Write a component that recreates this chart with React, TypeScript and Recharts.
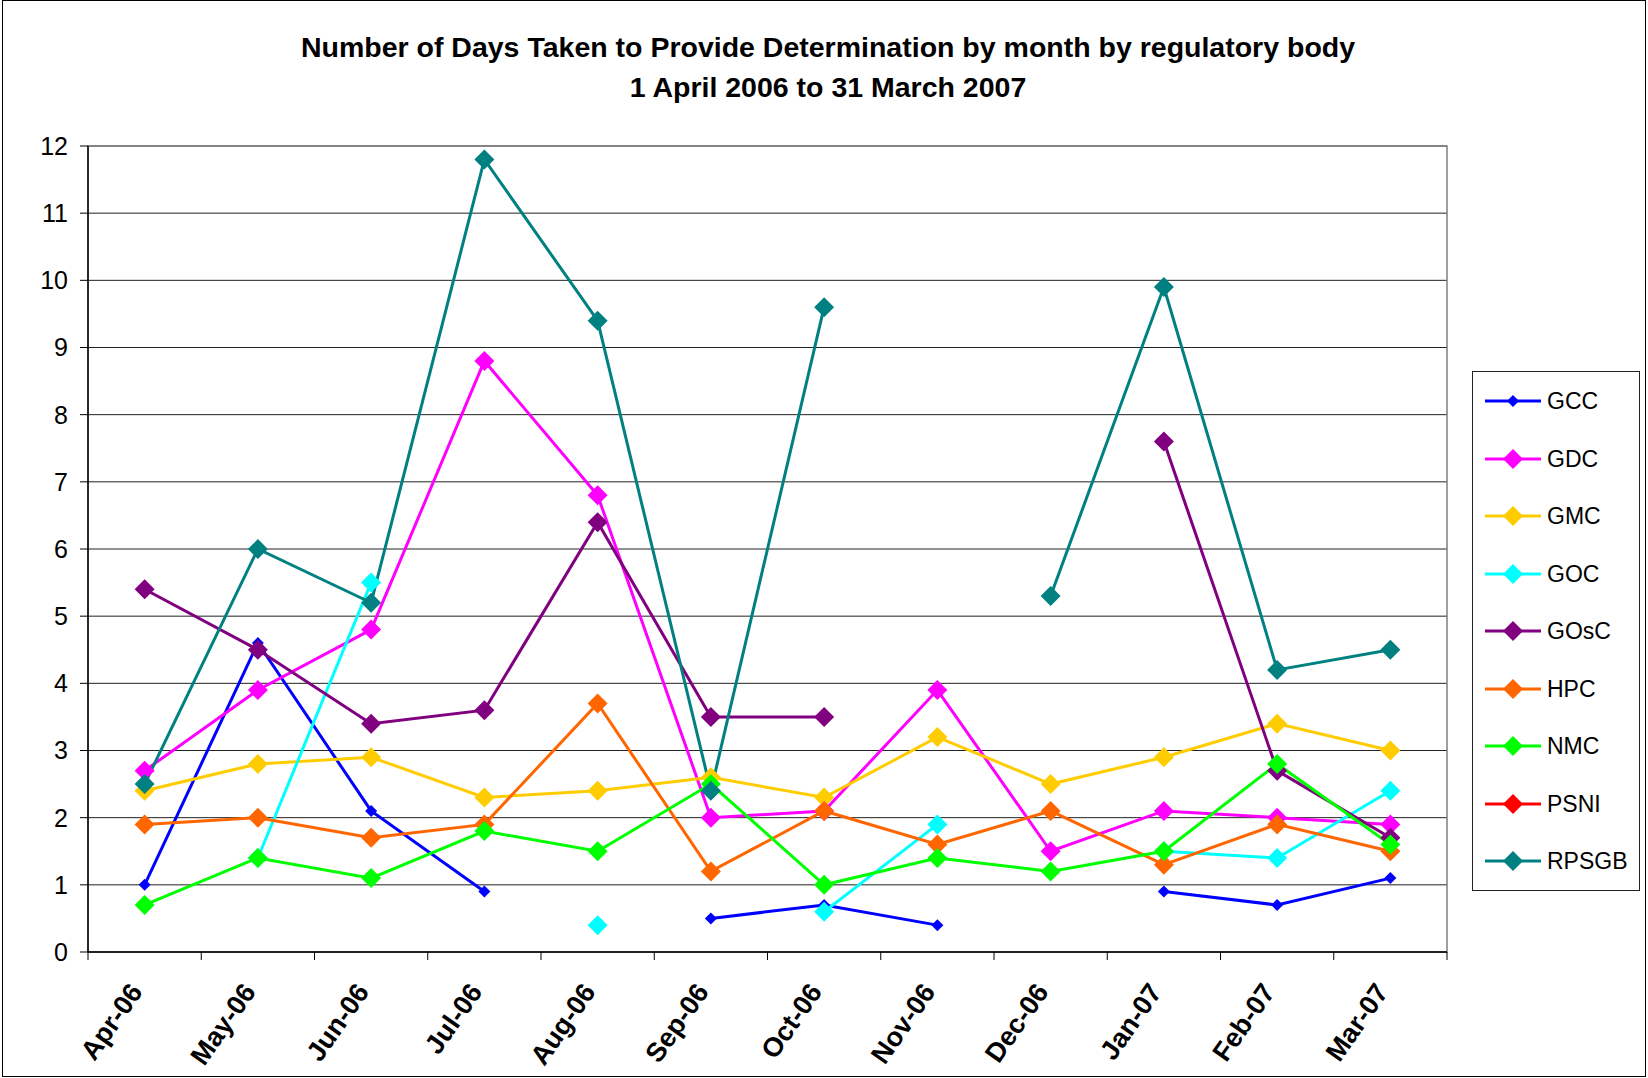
import React from "react"
import {
  LineChart, Line, XAxis, YAxis, CartesianGrid, Legend, ReferenceArea,
} from "recharts"

const months = ["Apr-06", "May-06", "Jun-06", "Jul-06", "Aug-06", "Sep-06", "Oct-06", "Nov-06", "Dec-06", "Jan-07", "Feb-07", "Mar-07"]
const yTicks = [0, 1, 2, 3, 4, 5, 6, 7, 8, 9, 10, 11, 12]

const gcc = [1.0, 4.6, 2.1, 0.9, null, 0.5, 0.7, 0.4, null, 0.9, 0.7, 1.1]
const gdc = [2.7, 3.9, 4.8, 8.8, 6.8, 2.0, 2.1, 3.9, 1.5, 2.1, 2.0, 1.9]
const gmc = [2.4, 2.8, 2.9, 2.3, 2.4, 2.6, 2.3, 3.2, 2.5, 2.9, 3.4, 3.0]
const goc = [null, 1.4, 5.5, null, 0.4, null, 0.6, 1.9, null, 1.5, 1.4, 2.4]
const gosc = [5.4, 4.5, 3.4, 3.6, 6.4, 3.5, 3.5, null, null, 7.6, 2.7, 1.7]
const hpc = [1.9, 2.0, 1.7, 1.9, 3.7, 1.2, 2.1, 1.6, 2.1, 1.3, 1.9, 1.5]
const nmc = [0.7, 1.4, 1.1, 1.8, 1.5, 2.5, 1.0, 1.4, 1.2, 1.5, 2.8, 1.6]
const psni = [null, null, null, null, null, null, null, null, null, null, null, null]
const rpsgb = [2.5, 6.0, 5.2, 11.8, 9.4, 2.4, 9.6, null, 5.3, 9.9, 4.2, 4.5]

const SERIES = [
  { key: "GCC", values: gcc, color: "#0000FF", r: 6 },
  { key: "GDC", values: gdc, color: "#FF00FF", r: 10 },
  { key: "GMC", values: gmc, color: "#FFCC00", r: 10 },
  { key: "GOC", values: goc, color: "#00FFFF", r: 10 },
  { key: "GOsC", values: gosc, color: "#800080", r: 10 },
  { key: "HPC", values: hpc, color: "#FF6600", r: 10 },
  { key: "NMC", values: nmc, color: "#00FF00", r: 10 },
  { key: "PSNI", values: psni, color: "#FF0000", r: 10 },
  { key: "RPSGB", values: rpsgb, color: "#008080", r: 10 },
]

const W = 1648
const H = 1078
const PLOT_L = 88
const PLOT_R = 1447
const PLOT_T = 146
const PLOT_B = 952
const STEP = (PLOT_R - PLOT_L) / months.length
const FONT = '"Liberation Sans", Arial, sans-serif'

// one row per month, x at the middle of each category slot
const data = months.map((m, i) => {
  const row: Record<string, any> = { x: i + 0.5, month: m }
  SERIES.forEach((s) => { row[s.key] = s.values[i] })
  return row
})

const diamondPath = (cx: number, cy: number, r: number) =>
  `M${cx},${cy - r}L${cx + r},${cy}L${cx},${cy + r}L${cx - r},${cy}Z`

function makeDot(color: string, r: number) {
  return (props: any) => {
    const { cx, cy, index, value } = props
    if (value == null || typeof cy !== "number" || isNaN(cy)) return <g key={`d-${index}`} />
    return <path key={`d-${index}`} d={diamondPath(cx, cy, r)} fill={color} />
  }
}

function MonthTick(props: any) {
  const { x, y, payload } = props
  const i = payload.value
  if (i >= months.length) return <g />
  const ax = x + STEP / 2 - 1
  const ay = y + 30
  return (
    <text
      x={ax}
      y={ay}
      textAnchor="end"
      transform={`rotate(-55, ${ax}, ${ay})`}
      fontFamily={FONT}
      fontSize={27}
      fontWeight="bold"
      fill="#000"
    >
      {months[i]}
    </text>
  )
}

function LegendBox() {
  return (
    <div
      style={{
        width: 168, height: 520, boxSizing: "border-box", border: "1px solid #222",
        background: "#fff", display: "flex", flexDirection: "column", justifyContent: "center",
      }}
    >
      {SERIES.map((s) => (
        <div key={s.key} style={{ height: 57.5, display: "flex", alignItems: "center", paddingLeft: 12 }}>
          <svg width={58} height={24} style={{ display: "block" }}>
            <line x1={0} y1={12} x2={56} y2={12} stroke={s.color} strokeWidth={3} />
            <path d={diamondPath(28, 12, s.r)} fill={s.color} />
          </svg>
          <span style={{ fontFamily: FONT, fontSize: 23, color: "#000", marginLeft: 4, lineHeight: "24px" }}>{s.key}</span>
        </div>
      ))}
    </div>
  )
}

export default function App() {
  return (
    <div style={{ position: "relative", width: W, height: H, background: "#fff" }}>
      <style>{"body{margin:0;background:#fff}"}</style>
      <div
        style={{
          position: "absolute", left: 2, top: 0, width: W - 4, height: H - 1,
          boxSizing: "border-box", border: "1px solid #000", pointerEvents: "none", zIndex: 2,
        }}
      />
      <div
        style={{
          position: "absolute", left: 0, top: 27, width: 1656, textAlign: "center",
          fontFamily: FONT, fontWeight: "bold", fontSize: 28.5, lineHeight: "40px", color: "#000", zIndex: 1,
        }}
      >
        <div>Number of Days Taken to Provide Determination by month by regulatory body</div>
        <div>1 April 2006 to 31 March 2007</div>
      </div>
      <LineChart
        width={W}
        height={H}
        data={data}
        margin={{ top: PLOT_T, right: W - PLOT_R, bottom: 16, left: PLOT_L - 70 }}
      >
        <CartesianGrid horizontal vertical={false} stroke="#222" strokeWidth={1} />
        <ReferenceArea x1={0} x2={12} y1={0} y2={12} fill="none" fillOpacity={0} stroke="#808080" strokeWidth={1.5} />
        <XAxis
          dataKey="x"
          type="number"
          domain={[0, 12]}
          ticks={yTicks}
          interval={0}
          allowDataOverflow
          height={H - 16 - PLOT_B}
          tickSize={8}
          axisLine={{ stroke: "#000", strokeWidth: 1.5 }}
          tickLine={{ stroke: "#000" }}
          tick={<MonthTick />}
        />
        <YAxis
          type="number"
          domain={[0, 12]}
          ticks={yTicks}
          interval={0}
          width={70}
          tickSize={8}
          tickMargin={12}
          axisLine={{ stroke: "#000", strokeWidth: 1.5 }}
          tickLine={{ stroke: "#000" }}
          tick={{ fontSize: 25, fill: "#000", fontFamily: FONT }}
        />
        <Legend
          layout="vertical"
          align="center"
          verticalAlign="middle"
          content={() => <LegendBox />}
          wrapperStyle={{ left: 1472, top: 371, width: 168, height: 520 }}
        />
        {SERIES.map((s) => (
          <Line
            key={s.key}
            dataKey={s.key}
            name={s.key}
            type="linear"
            stroke={s.color}
            strokeWidth={3}
            dot={makeDot(s.color, s.r)}
            activeDot={false}
            isAnimationActive={false}
          />
        ))}
      </LineChart>
    </div>
  )
}
